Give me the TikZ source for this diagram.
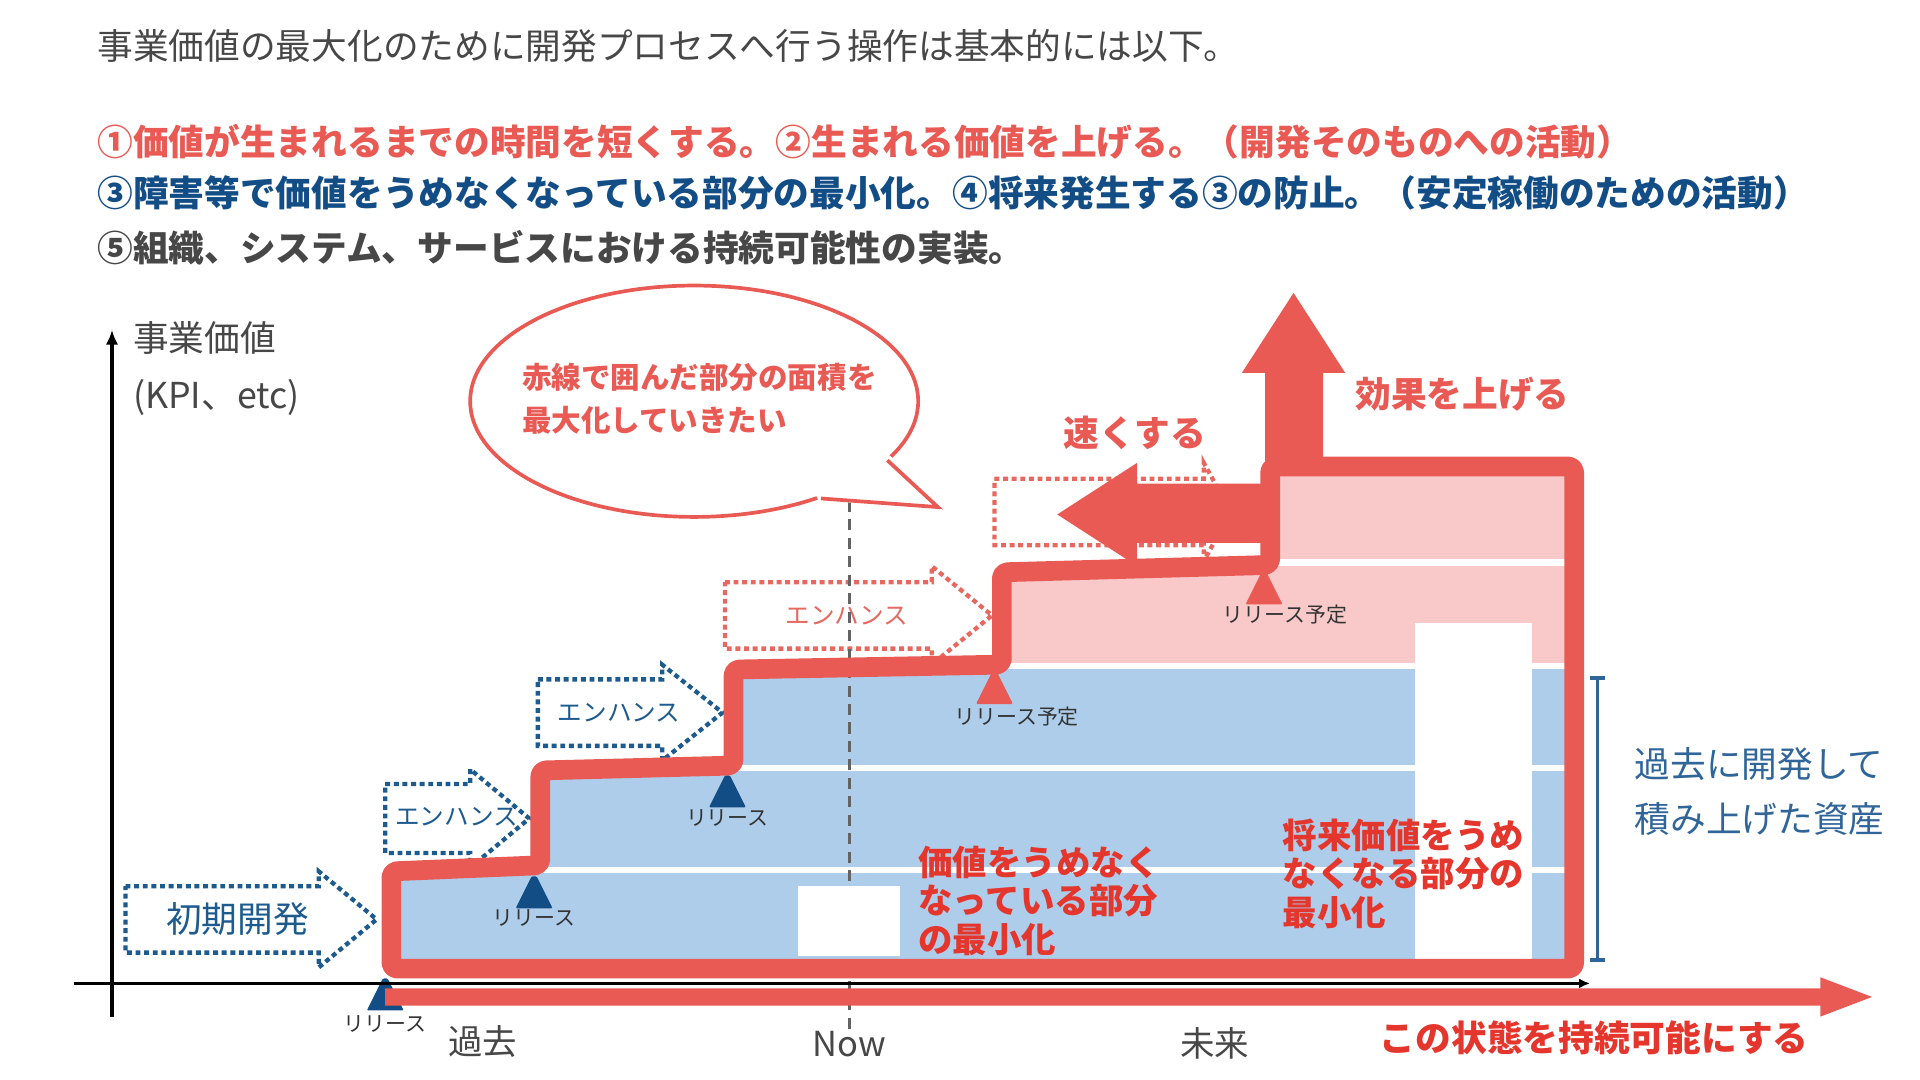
\documentclass[tikz,border=0pt]{standalone}
\usepackage{fontspec}
\setmainfont{Noto Sans CJK JP}
\usetikzlibrary{arrows.meta, positioning}

\definecolor{kred}{HTML}{E85A53}
\definecolor{kblue}{HTML}{134D86}
\definecolor{kgray}{HTML}{474747}
\definecolor{notegray}{HTML}{333333}
\definecolor{fillblue}{HTML}{AECDEA}
\definecolor{fillpink}{HTML}{F8C9C8}
\definecolor{dotblue}{HTML}{1D5B8F}
\definecolor{dotred}{HTML}{E8675F}
\definecolor{annred}{HTML}{E4362C}
\definecolor{assetblue}{HTML}{2F6598}

\begin{document}
\begin{tikzpicture}[x=1pt,y=-1pt,
  every node/.style={inner sep=0pt},
  heading/.style={anchor=west, font=\fontsize{29}{29}\selectfont\bfseries},
  plain/.style={text=kgray, font=\fontsize{28}{28}\selectfont},
  relnote/.style={text=notegray, font=\fontsize{17}{17}\selectfont},
  dotbox/.style={dash pattern=on 4pt off 3pt, line width=3.5pt},
  rimline/.style={draw=kred, line width=16pt, rounded corners=5pt, line join=round},
  bigred/.style={text=kred, font=\fontsize{29}{29}\selectfont\bfseries},
  annot/.style={anchor=north west, align=left, text=annred, font=\fontsize{28}{31.5}\selectfont\bfseries}]
\useasboundingbox (0,0) rectangle (1560,877.5);

% header text
\node[anchor=west, text=kgray, font=\fontsize{29}{29}\selectfont] (lead) at (79,37) {事業価値の最大化のために開発プロセスへ行う操作は基本的には以下。};
\node[heading, text=kred] (goal1) at (79,115) {①価値が生まれるまでの時間を短くする。②生まれる価値を上げる。（開発そのものへの活動）};
\node[heading, text=kblue] (goal2) at (79,157) {③障害等で価値をうめなくなっている部分の最小化。④将来発生する③の防止。（安定稼働のための活動）};
\node[heading, text=kgray] (goal3) at (79,201) {⑤組織、システム、サービスにおける持続可能性の実装。};

% outline corners
\coordinate (o1) at (318,787);
\coordinate (o2) at (318,708);
\coordinate (o3) at (439,703);
\coordinate (o4) at (439,626);
\coordinate (o5) at (596,622);
\coordinate (o6) at (596,544);
\coordinate (o7) at (814,540);
\coordinate (o8) at (814,465);
\coordinate (o9) at (1032,459);
\coordinate (o10) at (1032,379);
\coordinate (o11) at (1279,379);
\coordinate (o12) at (1279,787);

% layers
\fill[fillblue] (o1) -- (o2) -- (o3) -- (o4) -- (o5) -- (o6) -- (o7) -- (814,541) -- (1279,541) -- (o12) -- cycle;
\fill[fillpink] (814,541) -- (o8) -- (o9) -- (o10) -- (o11) -- (1279,541) -- cycle;
\foreach \y/\x in {707/439, 624/596, 541/814, 457/1032}
  \draw[white, line width=5pt] (\x,\y) -- (1279,\y);

% dotted block arrows
\foreach \l/\h/\t/\m/\s/\w/\c in {102/259/306/747/27/39/dotblue, 313/382/430/665/28/40/dotblue,
    437/538/587/579/27/39/dotblue, 589/757/806/500/27/40/dotred, 808/978/1000/416/27/40/dotred}
  \draw[dotbox, draw=\c] (\l,\m-\s) -- (\h,\m-\s) -- (\h,\m-\w) -- (\t,\m) -- (\h,\m+\w) -- (\h,\m+\s) -- (\l,\m+\s) -- cycle;
\node[text=dotblue, font=\fontsize{29}{29}\selectfont] (init) at (193,747) {初期開発};
\node[text=dotblue, font=\fontsize{20}{20}\selectfont] (enh1) at (371,664) {エンハンス};
\node[text=dotblue, font=\fontsize{20}{20}\selectfont] (enh2) at (503,579) {エンハンス};
\node[text=dotred, font=\fontsize{20}{20}\selectfont] (enh3) at (688,500) {エンハンス};

% now line
\draw[kgray!85, line width=2.5pt, dash pattern=on 9pt off 6pt] (690,407) -- (690,838);

\fill[white] (648,720) rectangle (731,777);
\fill[white] (1150,506) rectangle (1245,779);

% release marks
\foreach \x/\y/\c in {313/795/kblue, 434/712/kblue, 591/630/kblue, 808/546/kred, 1027/465/kred}
  \fill[\c, rounded corners=1pt] (\x-2,\y) -- (\x+2,\y) -- (\x+15,\y+26) -- (\x-15,\y+26) -- cycle;
\node[relnote] (rel1) at (313,832) {リリース};
\node[relnote] (rel2) at (434,746) {リリース};
\node[relnote] (rel3) at (591,665) {リリース};
\node[relnote] (plan1) at (826,582) {リリース予定};
\node[relnote] (plan2) at (1044,499) {リリース予定};

% red outline
\draw[rimline] (o1) -- (o2) -- (o3) -- (o4) -- (o5) -- (o6) -- (o7) -- (o8) -- (o9) -- (o10) -- (o11) -- (o12) -- cycle;

% sustain arrow and axes
\fill[kred] (313,803) -- (1479,803) -- (1479,794) -- (1521,810) -- (1479,826) -- (1479,817) -- (313,817) -- cycle;
\draw[line width=2.5pt, -{Latex[length=9pt,width=8pt]}] (60,799) -- (1292,799);
\draw[line width=2.5pt, -{Latex[length=12pt,width=10pt]}] (91,826) -- (91,268);

% faster / higher
\fill[kred] (1032,393) -- (924,393) -- (924,376) -- (859,418) -- (924,460) -- (924,441) -- (1032,441) -- cycle;
\fill[kred] (1028,385) -- (1028,303) -- (1009,303) -- (1051,238) -- (1093,303) -- (1075,303) -- (1075,385) -- cycle;
\node[bigred] (faster) at (922,352) {速くする};
\node[bigred, anchor=west] (higher) at (1101,320) {効果を上げる};

% balloon
\draw[kred, line width=3pt, fill=white] (564,326) ellipse [x radius=182, y radius=94];
\fill[white] (724,371) -- (762,412) -- (665,407) -- (660,395) -- (715,365) -- cycle;
\draw[kred, line width=3pt, line join=miter] (721,374) -- (762,412) -- (667,405);
\node[anchor=north west, align=left, text=kred, font=\fontsize{24}{35}\selectfont\bfseries] (wish) at (424,295) {赤線で囲んだ部分の面積を\\最大化していきたい};

% axis labels
\node[anchor=north west, align=left, text=kgray, font=\fontsize{29}{46}\selectfont] (vlabel) at (108,261) {事業価値\\(KPI、etc)};
\node[plain] (past) at (392,846) {過去};
\node[plain] (now) at (690,848) {Now};
\node[plain] (future) at (987,848) {未来};

% annotations
\node[annot] (loss) at (746,687) {価値をうめなく\\なっている部分\\の最小化};
\node[annot] (risk) at (1042,665) {将来価値をうめ\\なくなる部分の\\最小化};
\node[anchor=west, text=annred, font=\fontsize{29}{29}\selectfont\bfseries] (keep) at (1121,843) {この状態を持続可能にする};

% asset bracket
\draw[assetblue, line width=3pt] (1292,551) -- (1304,551) (1298,551) -- (1298,780) (1292,780) -- (1304,780);
\node[anchor=north west, align=left, text=assetblue, font=\fontsize{29}{45}\selectfont] (asset) at (1328,607) {過去に開発して\\積み上げた資産};
\end{tikzpicture}
\end{document}
